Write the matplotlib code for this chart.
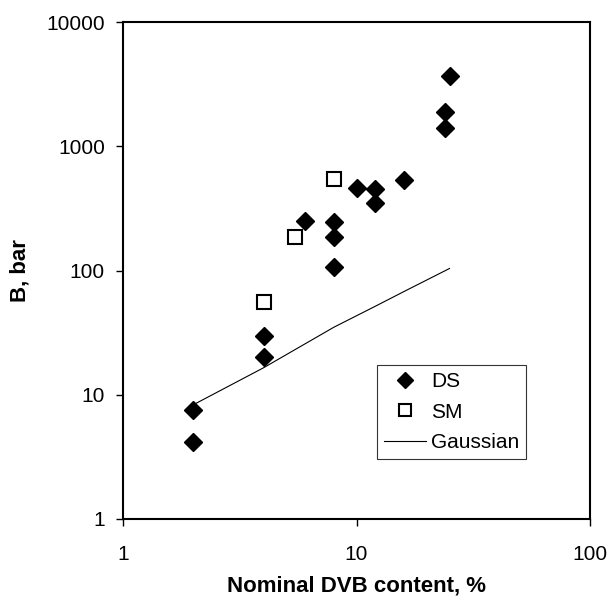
import numpy as np
import matplotlib.pyplot as plt
from matplotlib.ticker import FuncFormatter, NullLocator

plt.rcParams['font.family'] = ['Liberation Sans', 'DejaVu Sans']

# DS data
ds_x = [2, 2, 4, 4, 6, 8, 8, 8, 10, 12, 12, 16, 24, 24, 25]
ds_y = [7.5, 4.2, 29.5, 20, 250, 244, 188, 106, 460, 450, 347, 535, 1880, 1400, 3700]

# SM data
sm_x = [4, 5.45, 8]
sm_y = [56, 188, 542]

# Gaussian model
gauss_x = [2, 4, 8, 12, 16, 25]
gauss_y = [8.3, 16.5, 35, 51.5, 68, 104]

fig = plt.figure(figsize=(6.11, 6.0), dpi=100)
ax = fig.add_axes([0.201, 0.135, 0.765, 0.828])

ax.plot(ds_x, ds_y, 'D', color='black', ms=9, label='DS', linestyle='none')
ax.plot(sm_x, sm_y, 's', mfc='white', mec='black', mew=1.5, ms=10, label='SM', linestyle='none')
ax.plot(gauss_x, gauss_y, '-', color='black', lw=0.8, label='Gaussian')

ax.set_xscale('log')
ax.set_yscale('log')
ax.set_xlim(1, 100)
ax.set_ylim(1, 10000)
ax.xaxis.set_minor_locator(NullLocator())
ax.yaxis.set_minor_locator(NullLocator())
fmt = FuncFormatter(lambda v, p: '%g' % v)
ax.xaxis.set_major_formatter(fmt)
ax.yaxis.set_major_formatter(fmt)
ax.tick_params(direction='out', length=5, width=1, labelsize=15)
ax.tick_params(axis='x', pad=14)
ax.tick_params(axis='y', pad=8)
for s in ax.spines.values():
    s.set_linewidth(1.5)

ax.set_xlabel('Nominal DVB content, %', fontsize=16, fontweight='bold', labelpad=8)
ax.set_ylabel('B, bar', fontsize=16, fontweight='bold', labelpad=11)

leg = ax.legend(loc='upper left', bbox_to_anchor=(0.543, 0.31), fontsize=15,
                frameon=True, fancybox=False, edgecolor='black', handlelength=2.0,
                handletextpad=0.25, markerscale=0.9,
                borderpad=0.35, labelspacing=0.55, borderaxespad=0)
leg.get_frame().set_linewidth(0.8)

fig.savefig('out.png', dpi=100)
